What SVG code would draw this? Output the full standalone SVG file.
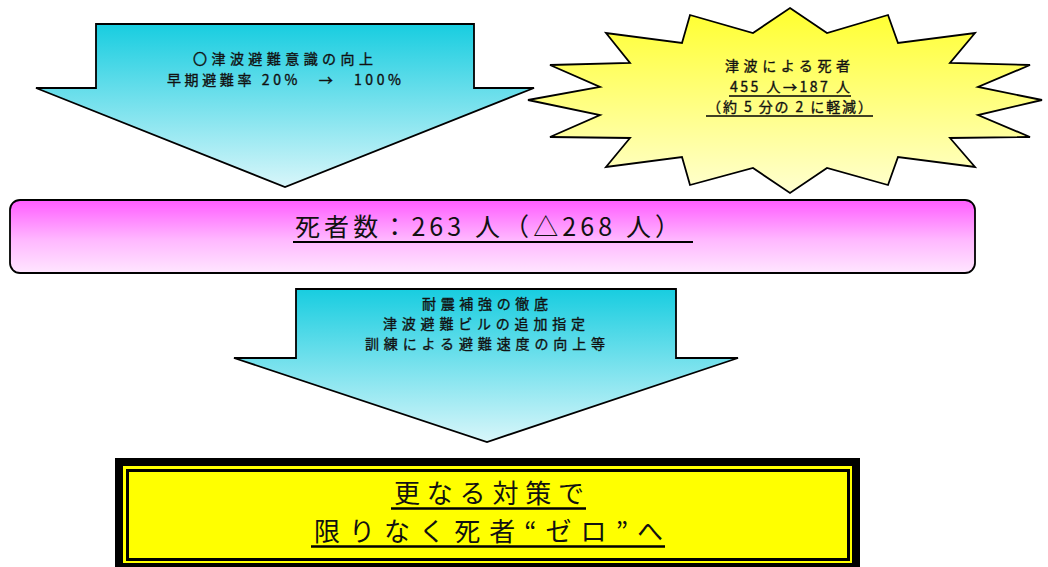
<svg xmlns="http://www.w3.org/2000/svg" width="1048" height="567" viewBox="0 0 1048 567">
  <defs>
    <linearGradient id="gCyan" x1="0" y1="0" x2="0" y2="1">
      <stop offset="0" stop-color="#18CDE0"/>
      <stop offset="1" stop-color="#D8F6FA"/>
    </linearGradient>
    <linearGradient id="gYellow" x1="0" y1="0" x2="0" y2="1">
      <stop offset="0" stop-color="#FFFF2E"/>
      <stop offset="1" stop-color="#FFFFD0"/>
    </linearGradient>
    <linearGradient id="gPink" x1="0" y1="0" x2="0" y2="1">
      <stop offset="0" stop-color="#FF5CFF"/>
      <stop offset="0.55" stop-color="#FFB8FF"/>
      <stop offset="1" stop-color="#FFE6FF"/>
    </linearGradient>
    <style>
      .sm { font-family: "Noto Sans CJK JP", "Noto Sans", sans-serif; font-size: 14px; fill: #111; stroke: #111; stroke-width: 0.35px; }
      .lg { font-family: "Noto Sans CJK JP", "Noto Sans", sans-serif; font-size: 25px; fill: #111; }
      .xl { font-family: "Noto Sans CJK JP", "Noto Sans", sans-serif; font-size: 26px; fill: #111; }
      .ul { stroke: #000; }
      .shape { stroke: #000; stroke-width: 1.8; stroke-linejoin: miter; }
    </style>
  </defs>

  <rect width="1048" height="567" fill="#ffffff"/>

  <g id="arrow-top">
    <polygon class="shape" fill="url(#gCyan)" points="96,24 474,24 474,88 534,88 285,187 36,88 96,88"/>
    <text class="sm" x="193" y="64" textLength="180" lengthAdjust="spacing">〇津波避難意識の向上</text>
    <text class="sm" x="167" y="85" textLength="234" lengthAdjust="spacing">早期避難率 20%　→　100%</text>
  </g>

  <g id="star">
    <polygon class="shape" fill="url(#gYellow)" points="790,8 827,33 888,15 898,43 975,33 950,63 1030,65 978,87 1042,100 978,115 1030,137 950,138 975,167 898,157 888,185 827,168 790,193 753,168 690,185 682,157 606,167 630,138 550,137 600,115 528,100 600,87 550,65 630,63 606,33 682,43 690,15 753,33"/>
    <text class="sm" x="725" y="71" textLength="125" lengthAdjust="spacing">津波による死者</text>
    <text class="sm" x="730" y="92" textLength="120" lengthAdjust="spacing">455 人→187 人</text>
    <line class="ul" x1="729" y1="96" x2="851" y2="96" stroke-width="1.3"/>
    <text class="sm" x="707" y="112" textLength="165" lengthAdjust="spacing">（約 5 分の 2 に軽減）</text>
    <line class="ul" x1="706" y1="116" x2="873" y2="116" stroke-width="1.3"/>
  </g>

  <g id="deaths">
    <rect x="10" y="200" width="965" height="73" rx="10" ry="10" fill="url(#gPink)" stroke="#000" stroke-width="1.8"/>
    <text class="lg" x="295" y="236" textLength="385" lengthAdjust="spacing">死者数：263 人（△268 人）</text>
    <line class="ul" x1="293" y1="242" x2="693" y2="242" stroke-width="2"/>
  </g>

  <g id="arrow-mid">
    <polygon class="shape" fill="url(#gCyan)" points="296,289 676,289 676,358 738,358 487,442 234,358 296,358"/>
    <text class="sm" x="422" y="309" textLength="126" lengthAdjust="spacing">耐震補強の徹底</text>
    <text class="sm" x="383" y="329" textLength="202" lengthAdjust="spacing">津波避難ビルの追加指定</text>
    <text class="sm" x="365" y="349" textLength="240" lengthAdjust="spacing">訓練による避難速度の向上等</text>
  </g>

  <g id="goal">
    <rect x="115" y="458" width="745" height="112" fill="#000"/>
    <rect x="123" y="466" width="729" height="97" fill="#FFFF00"/>
    <rect x="127.5" y="470.5" width="721" height="89" fill="#FFFF00" stroke="#000" stroke-width="3"/>
    <text class="xl" x="394" y="503" textLength="190" lengthAdjust="spacing">更なる対策で</text>
    <line class="ul" x1="391" y1="508.5" x2="586" y2="508.5" stroke-width="2.5"/>
    <text class="xl" x="314" y="541" textLength="349" lengthAdjust="spacing">限りなく死者“ゼロ”へ</text>
    <line class="ul" x1="311" y1="546.5" x2="665" y2="546.5" stroke-width="2.5"/>
  </g>

  <g id="connectors"/>
</svg>
